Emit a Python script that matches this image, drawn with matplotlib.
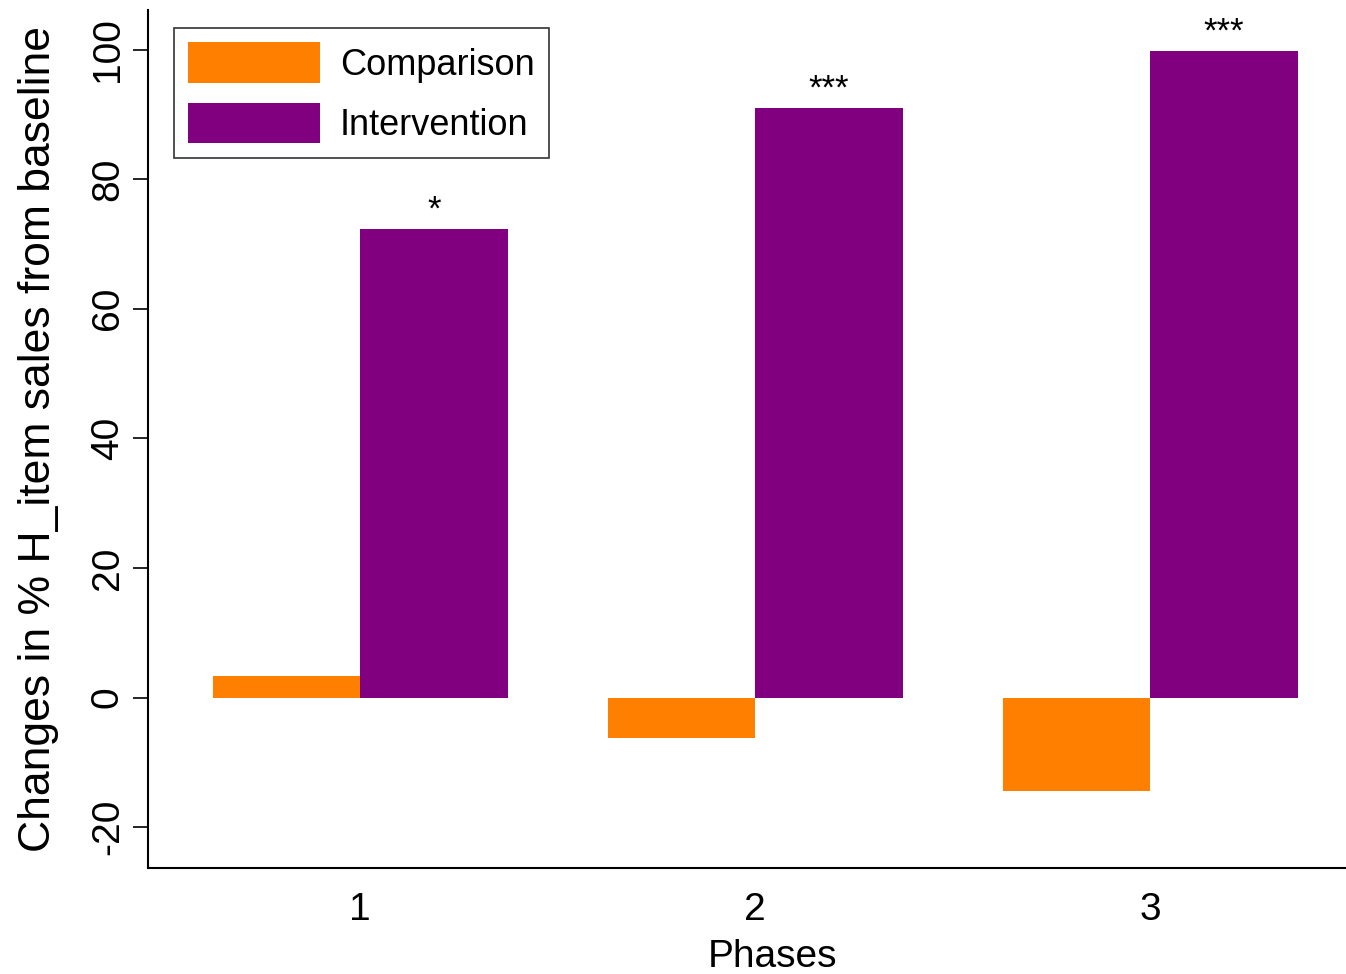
import numpy as np
import matplotlib.pyplot as plt

plt.rcParams['font.family'] = ['Liberation Sans', 'DejaVu Sans']

phases = [1, 2, 3]
comparison = [3.3, -6.3, -14.4]
intervention = [72.3, 91.0, 99.8]
stars = ['*', '***', '***']
yticks = [-20, 0, 20, 40, 60, 80, 100]


def main():
    fig = plt.figure(figsize=(13.46, 9.74), dpi=100)
    ax = fig.add_axes([148 / 1346, 1 - 868 / 974, 1198 / 1346, 858 / 974])

    x = np.array(phases, dtype=float)
    w = 0.3734
    ax.bar(x - w / 2, comparison, width=w, color='#FF7F00', label='Comparison')
    ax.bar(x + w / 2, intervention, width=w, color='#800080', label='Intervention')

    # significance markers above intervention bars
    for xi, v, s in zip(x, intervention, stars):
        ax.text(xi + w / 2, v + 1.4, s, ha='center', va='baseline', fontsize=25)

    ax.set_xlim(0.463, 3.496)
    ax.set_ylim(-26.3, 106.1)
    ax.set_xticks(x)
    ax.set_xticklabels([str(p) for p in phases])
    ax.tick_params(axis='x', length=0, labelsize=28, pad=17)
    ax.set_yticks(yticks)
    ax.set_yticklabels([str(t) for t in yticks], rotation=90, va='center')
    ax.tick_params(axis='y', length=11, width=1.2, labelsize=28, pad=5)

    for side in ['top', 'right']:
        ax.spines[side].set_visible(False)
    ax.spines['left'].set_linewidth(1.5)
    ax.spines['bottom'].set_linewidth(1.5)

    ax.set_xlabel('Phases', fontsize=28)
    ax.xaxis.set_label_coords(0.521, -0.083)
    ax.set_ylabel('Changes in % H_item sales from baseline', fontsize=32, labelpad=22)

    leg = ax.legend(loc='upper left', bbox_to_anchor=(0.0217, 0.979), fontsize=26,
                    frameon=True, fancybox=False, edgecolor='black',
                    handlelength=3.65, handleheight=1.35, labelspacing=0.55,
                    borderpad=0.4, handletextpad=0.55, borderaxespad=0)
    leg.get_frame().set_linewidth(1.2)

    fig.savefig('out.png', dpi=100)


if __name__ == "__main__":
    main()
